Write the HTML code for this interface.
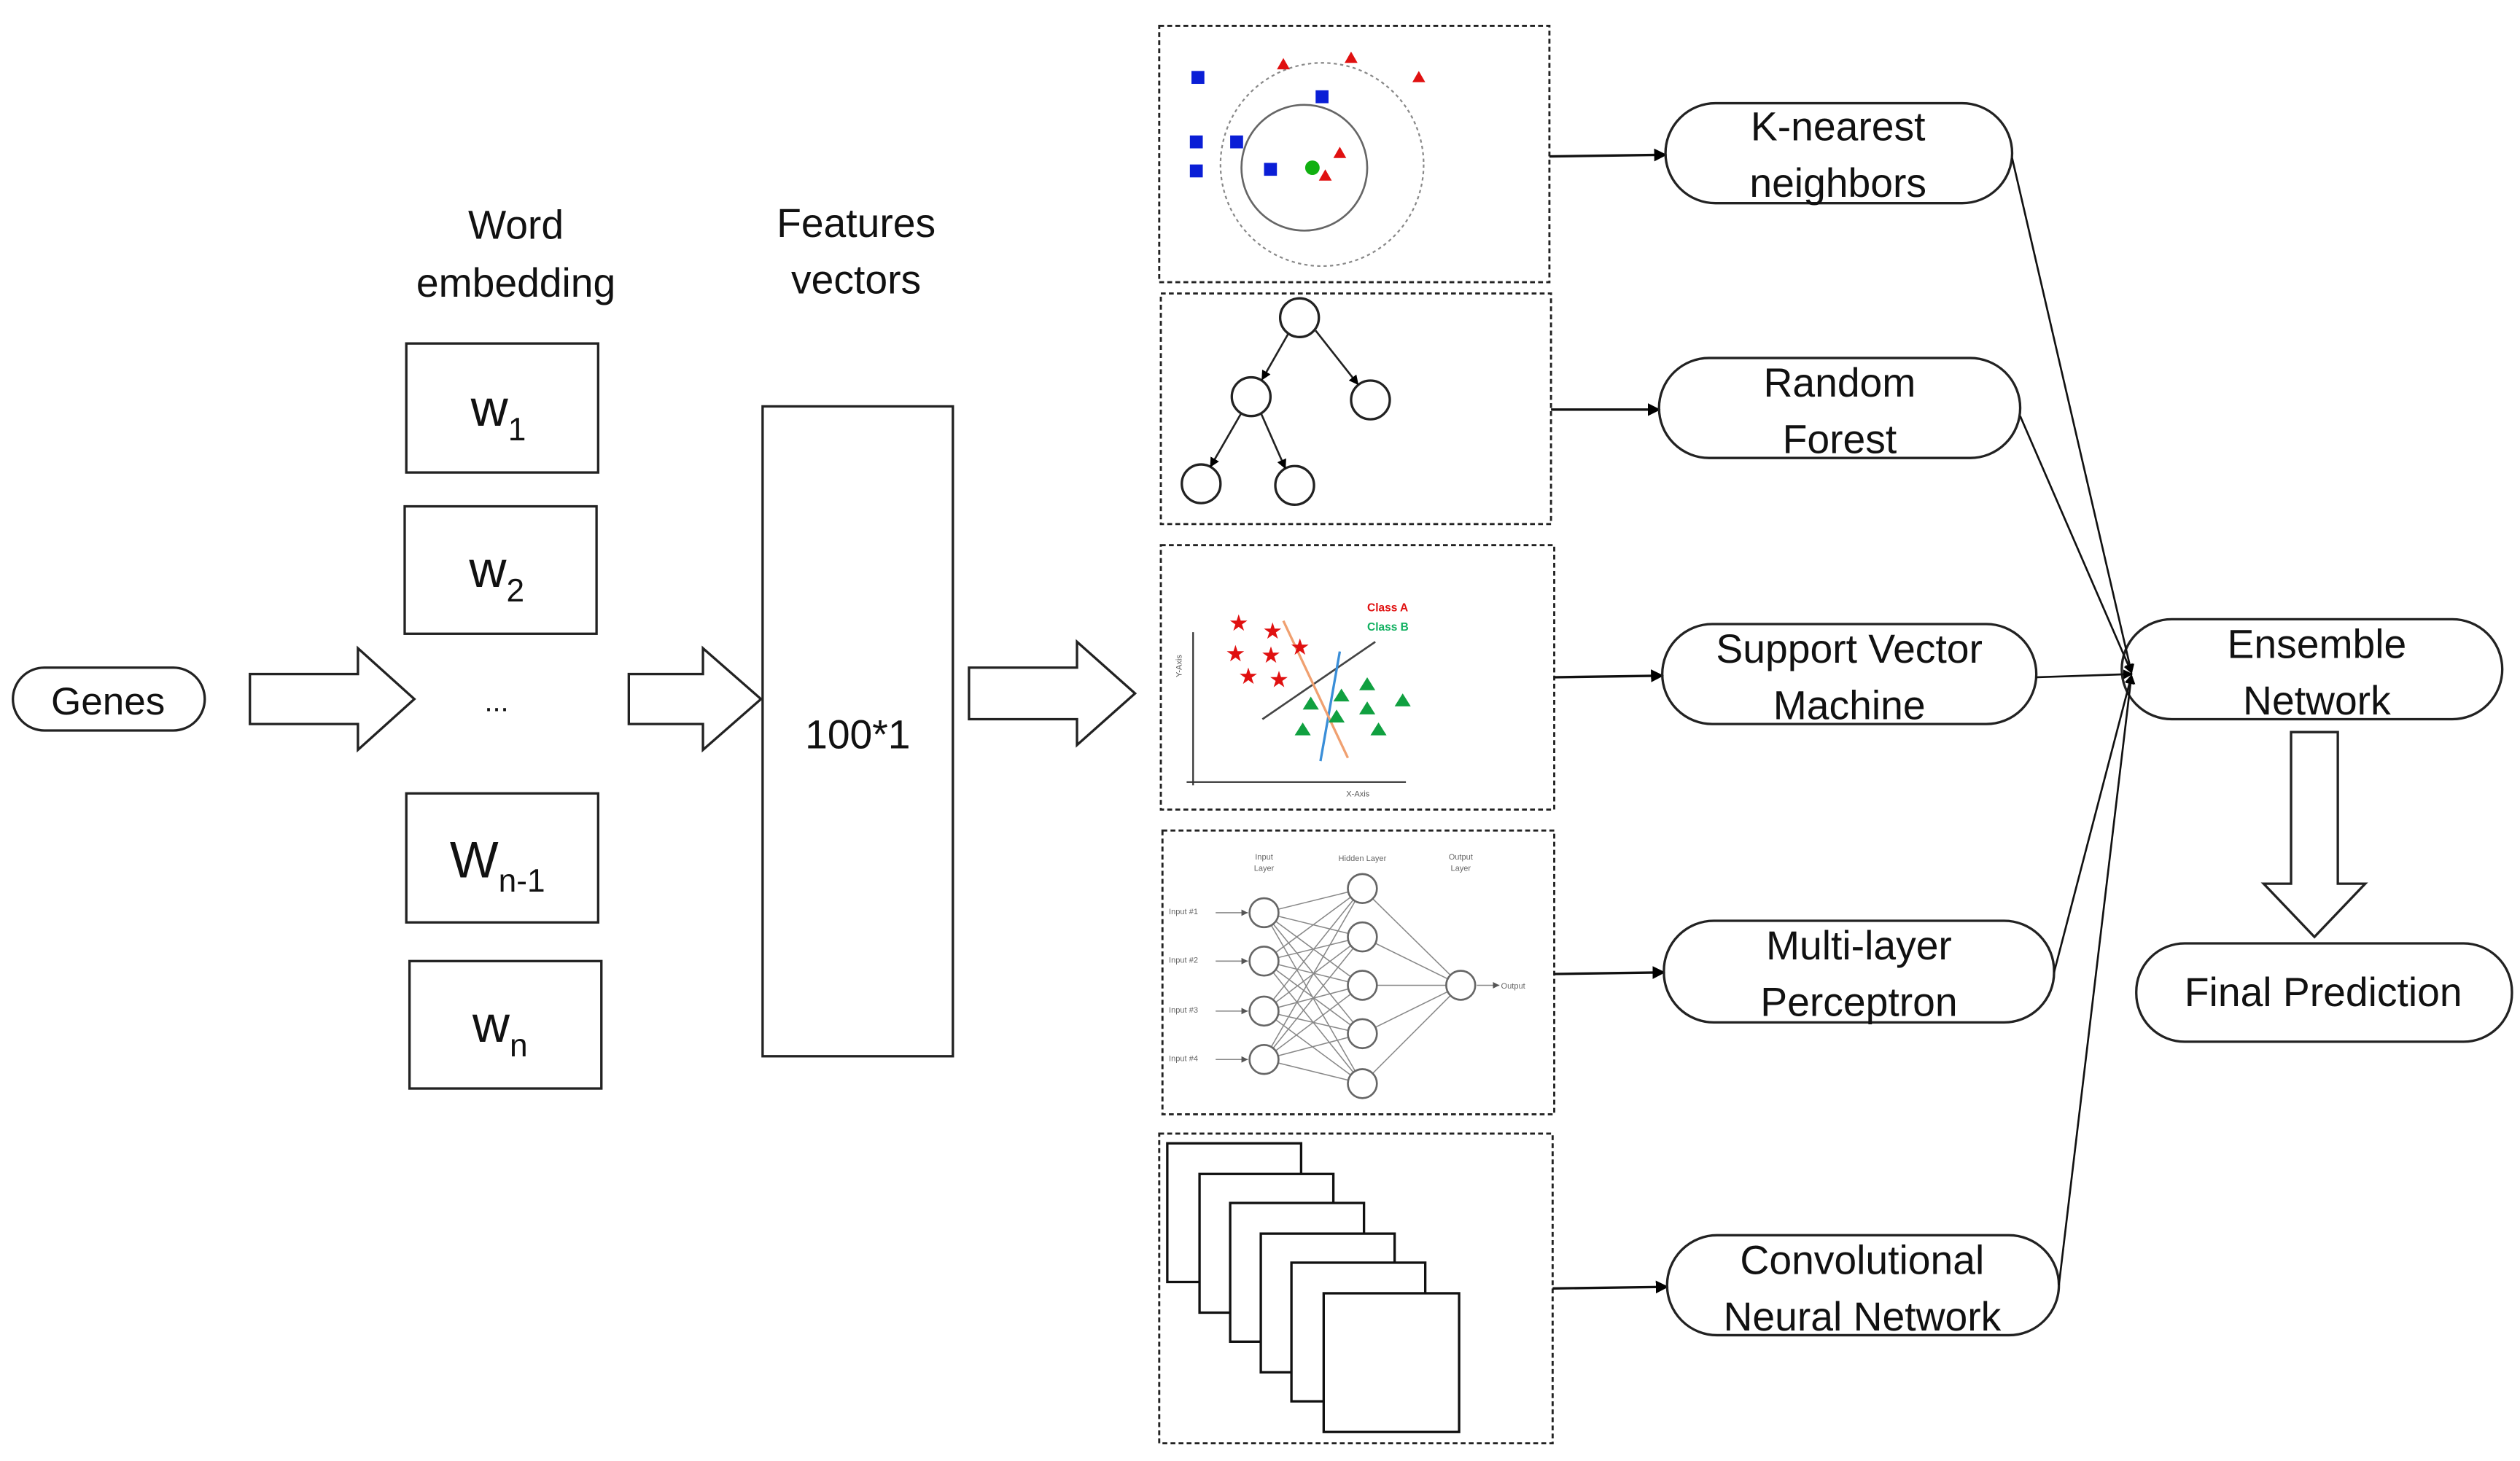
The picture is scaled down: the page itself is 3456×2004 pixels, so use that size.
<!DOCTYPE html>
<html><head><meta charset="utf-8"><style>
html,body{margin:0;padding:0;background:#fff;}
svg{display:block;}
text{font-family:"Liberation Sans","DejaVu Sans",sans-serif;fill:#111;}
</style></head><body>
<svg width="3456" height="2004" viewBox="0 0 1563 906" preserveAspectRatio="none" xmlns="http://www.w3.org/2000/svg">
<defs>
<marker id="ah" markerWidth="8" markerHeight="8" refX="7" refY="4" orient="auto" markerUnits="userSpaceOnUse"><path d="M0,0 L8,4 L0,8 z" fill="#000"/></marker>
<marker id="sa" markerWidth="6" markerHeight="6" refX="5" refY="3" orient="auto" markerUnits="userSpaceOnUse"><path d="M0,0 L6,3 L0,6 z" fill="#000"/></marker>
<marker id="ga" markerWidth="4" markerHeight="4" refX="4" refY="2" orient="auto" markerUnits="userSpaceOnUse"><path d="M0,0 L4,2 L0,4 z" fill="#555"/></marker>
</defs>
<g fill="none" stroke="#222" stroke-width="1.5">
<rect x="8" y="414" width="119" height="39" rx="19.5"/>
<path d="M155,418 L222,418 L222,402 L257,433.5 L222,465 L222,449 L155,449 Z"/>
<path d="M390,418 L436,418 L436,402 L472,433.5 L436,465 L436,449 L390,449 Z"/>
<path d="M601,414 L668,414 L668,398 L704,430 L668,462 L668,446 L601,446 Z"/>
<rect x="252" y="213" width="119" height="80"/>
<rect x="251" y="314" width="119" height="79"/>
<rect x="252" y="492" width="119" height="80"/>
<rect x="254" y="596" width="119" height="79"/>
<rect x="473" y="252" width="118" height="403"/>
</g>
<text x="67" y="443" font-size="24" text-anchor="middle">Genes</text>
<text x="320" y="148" font-size="25" text-anchor="middle">Word</text>
<text x="320" y="184" font-size="25" text-anchor="middle">embedding</text>
<text x="531" y="147" font-size="25" text-anchor="middle">Features</text>
<text x="531" y="182" font-size="25" text-anchor="middle">vectors</text>
<text x="292" y="264" font-size="32">w<tspan font-size="20" dy="9">1</tspan></text>
<text x="291" y="364" font-size="32">w<tspan font-size="20" dy="9">2</tspan></text>
<text x="308" y="441" font-size="18" text-anchor="middle">...</text>
<text x="279" y="544" font-size="32">W<tspan font-size="20" dy="9">n-1</tspan></text>
<text x="293" y="646" font-size="32">w<tspan font-size="20" dy="9">n</tspan></text>
<text x="532" y="464" font-size="25" text-anchor="middle">100*1</text>

<g fill="none" stroke="#222" stroke-width="1.3" stroke-dasharray="3,2">
<rect x="719" y="16" width="242" height="159"/>
<rect x="720" y="182" width="242" height="143"/>
<rect x="720" y="338" width="244" height="164"/>
<rect x="721" y="515" width="243" height="176"/>
<rect x="719" y="703" width="244" height="192"/>
</g>
<circle cx="820" cy="102" r="63" fill="none" stroke="#888" stroke-width="1" stroke-dasharray="2,2"/>
<circle cx="809" cy="104" r="39" fill="none" stroke="#666" stroke-width="1.2"/>
<g fill="#0a1ed6">
<rect x="739" y="44" width="8" height="8"/><rect x="738" y="84" width="8" height="8"/><rect x="763" y="84" width="8" height="8"/>
<rect x="738" y="102" width="8" height="8"/><rect x="816" y="56" width="8" height="8"/><rect x="784" y="101" width="8" height="8"/>
</g>
<g fill="#e01010">
<path d="M796,36 l4,7 h-8z"/><path d="M838,32 l4,7 h-8z"/><path d="M880,44 l4,7 h-8z"/><path d="M831,91 l4,7 h-8z"/><path d="M822,105 l4,7 h-8z"/>
</g>
<circle cx="814" cy="104" r="4.5" fill="#10b010"/>
<g fill="none" stroke="#222" stroke-width="1.5">
<circle cx="806" cy="197" r="12"/><circle cx="776" cy="246" r="12"/><circle cx="850" cy="248" r="12"/>
<circle cx="745" cy="300" r="12"/><circle cx="803" cy="301" r="12"/>
</g>
<g stroke="#222" stroke-width="1.2">
<line x1="799" y1="207" x2="783" y2="235" marker-end="url(#sa)"/>
<line x1="816" y1="205" x2="842" y2="238" marker-end="url(#sa)"/>
<line x1="770" y1="256" x2="751" y2="289" marker-end="url(#sa)"/>
<line x1="782" y1="256" x2="797" y2="290" marker-end="url(#sa)"/>
</g>
<g stroke="#333" stroke-width="1" fill="none">
<line x1="740" y1="392" x2="740" y2="487"/><line x1="736" y1="485" x2="872" y2="485"/>
<line x1="783" y1="446" x2="853" y2="398" stroke="#444" stroke-width="1.2"/>
<line x1="819" y1="472" x2="831" y2="404" stroke="#3a8ed8" stroke-width="1.5"/>
<line x1="796" y1="385" x2="836" y2="470" stroke="#f0a070" stroke-width="1.5"/>
</g>
<g font-size="14">
<text x="762" y="391" style="fill:#e01010">★</text><text x="783" y="396" style="fill:#e01010">★</text><text x="760" y="410" style="fill:#e01010">★</text>
<text x="782" y="411" style="fill:#e01010">★</text><text x="800" y="406" style="fill:#e01010">★</text><text x="768" y="424" style="fill:#e01010">★</text><text x="787" y="426" style="fill:#e01010">★</text>
</g>
<g fill="#10a040">
<path d="M848,420 l5,8 h-10z"/><path d="M832,427 l5,8 h-10z"/><path d="M813,432 l5,8 h-10z"/><path d="M829,440 l5,8 h-10z"/>
<path d="M848,435 l5,8 h-10z"/><path d="M870,430 l5,8 h-10z"/><path d="M808,448 l5,8 h-10z"/><path d="M855,448 l5,8 h-10z"/>
</g>
<text x="848" y="379" font-size="7" style="fill:#e01010;font-weight:bold">Class A</text>
<text x="848" y="391" font-size="7" style="fill:#10b060;font-weight:bold">Class B</text>
<text x="733" y="420" font-size="5" transform="rotate(-90 733 420)" style="fill:#555">Y-Axis</text>
<text x="835" y="494" font-size="5" style="fill:#555">X-Axis</text>
<g stroke="#888" stroke-width="0.7">
<line x1="784" y1="566" x2="845" y2="551"/><line x1="784" y1="566" x2="845" y2="581"/><line x1="784" y1="566" x2="845" y2="611"/><line x1="784" y1="566" x2="845" y2="641"/><line x1="784" y1="566" x2="845" y2="672"/>
<line x1="784" y1="596" x2="845" y2="551"/><line x1="784" y1="596" x2="845" y2="581"/><line x1="784" y1="596" x2="845" y2="611"/><line x1="784" y1="596" x2="845" y2="641"/><line x1="784" y1="596" x2="845" y2="672"/>
<line x1="784" y1="627" x2="845" y2="551"/><line x1="784" y1="627" x2="845" y2="581"/><line x1="784" y1="627" x2="845" y2="611"/><line x1="784" y1="627" x2="845" y2="641"/><line x1="784" y1="627" x2="845" y2="672"/>
<line x1="784" y1="657" x2="845" y2="551"/><line x1="784" y1="657" x2="845" y2="581"/><line x1="784" y1="657" x2="845" y2="611"/><line x1="784" y1="657" x2="845" y2="641"/><line x1="784" y1="657" x2="845" y2="672"/>
<line x1="845" y1="551" x2="906" y2="611"/><line x1="845" y1="581" x2="906" y2="611"/><line x1="845" y1="611" x2="906" y2="611"/><line x1="845" y1="641" x2="906" y2="611"/><line x1="845" y1="672" x2="906" y2="611"/>
<line x1="754" y1="566" x2="774" y2="566" marker-end="url(#ga)"/><line x1="754" y1="596" x2="774" y2="596" marker-end="url(#ga)"/>
<line x1="754" y1="627" x2="774" y2="627" marker-end="url(#ga)"/><line x1="754" y1="657" x2="774" y2="657" marker-end="url(#ga)"/>
<line x1="916" y1="611" x2="930" y2="611" marker-end="url(#ga)"/>
</g>
<g fill="#fff" stroke="#666" stroke-width="1.2">
<circle cx="784" cy="566" r="9"/><circle cx="784" cy="596" r="9"/><circle cx="784" cy="627" r="9"/><circle cx="784" cy="657" r="9"/>
<circle cx="845" cy="551" r="9"/><circle cx="845" cy="581" r="9"/><circle cx="845" cy="611" r="9"/><circle cx="845" cy="641" r="9"/><circle cx="845" cy="672" r="9"/>
<circle cx="906" cy="611" r="9"/>
</g>
<g font-size="5">
<text x="725" y="567" style="fill:#666">Input #1</text><text x="725" y="597" style="fill:#666">Input #2</text>
<text x="725" y="628" style="fill:#666">Input #3</text><text x="725" y="658" style="fill:#666">Input #4</text>
<text x="931" y="613" style="fill:#666">Output</text>
<text x="784" y="533" text-anchor="middle" style="fill:#666">Input</text><text x="784" y="540" text-anchor="middle" style="fill:#666">Layer</text>
<text x="845" y="534" text-anchor="middle" style="fill:#666">Hidden Layer</text>
<text x="906" y="533" text-anchor="middle" style="fill:#666">Output</text><text x="906" y="540" text-anchor="middle" style="fill:#666">Layer</text>
</g>
<g fill="#fff" stroke="#111" stroke-width="1.5">
<rect x="724" y="709" width="83" height="86"/>
<rect x="744" y="728" width="83" height="86"/>
<rect x="763" y="746" width="83" height="86"/>
<rect x="782" y="765" width="83" height="86"/>
<rect x="801" y="783" width="83" height="86"/>
<rect x="821" y="802" width="84" height="86"/>
</g>
<g stroke="#111" stroke-width="1.5">
<line x1="961" y1="97" x2="1033" y2="96" marker-end="url(#ah)"/>
<line x1="962" y1="254" x2="1029" y2="254" marker-end="url(#ah)"/>
<line x1="964" y1="420" x2="1031" y2="419" marker-end="url(#ah)"/>
<line x1="964" y1="604" x2="1032" y2="603" marker-end="url(#ah)"/>
<line x1="963" y1="799" x2="1034" y2="798" marker-end="url(#ah)"/>
</g>
<g fill="none" stroke="#222" stroke-width="1.5">
<rect x="1033" y="64" width="215" height="62" rx="31"/>
<rect x="1029" y="222" width="224" height="62" rx="31"/>
<rect x="1031" y="387" width="232" height="62" rx="31"/>
<rect x="1032" y="571" width="242" height="63" rx="31"/>
<rect x="1034" y="766" width="243" height="62" rx="31"/>
<rect x="1316" y="384" width="236" height="62" rx="31"/>
<rect x="1325" y="585" width="233" height="61" rx="30"/>
<path d="M1421,454 L1450,454 L1450,548 L1467,548 L1435.5,581 L1404,548 L1421,548 Z"/>
</g>
<g font-size="25" text-anchor="middle">
<text x="1140" y="87">K-nearest</text><text x="1140" y="122">neighbors</text>
<text x="1141" y="246">Random</text><text x="1141" y="281">Forest</text>
<text x="1147" y="411">Support Vector</text><text x="1147" y="446">Machine</text>
<text x="1153" y="595">Multi-layer</text><text x="1153" y="630">Perceptron</text>
<text x="1155" y="790">Convolutional</text><text x="1155" y="825">Neural Network</text>
<text x="1437" y="408">Ensemble</text><text x="1437" y="443">Network</text>
<text x="1441" y="624">Final Prediction</text>
</g>
<g stroke="#111" stroke-width="1.2">
<line x1="1248" y1="98" x2="1322" y2="417" marker-end="url(#sa)"/>
<line x1="1253" y1="258" x2="1322" y2="417" marker-end="url(#sa)"/>
<line x1="1263" y1="420" x2="1322" y2="418" marker-end="url(#sa)"/>
<line x1="1274" y1="603" x2="1322" y2="419" marker-end="url(#sa)"/>
<line x1="1277" y1="797" x2="1322" y2="419" marker-end="url(#sa)"/>
</g>
</svg>
</body></html>
